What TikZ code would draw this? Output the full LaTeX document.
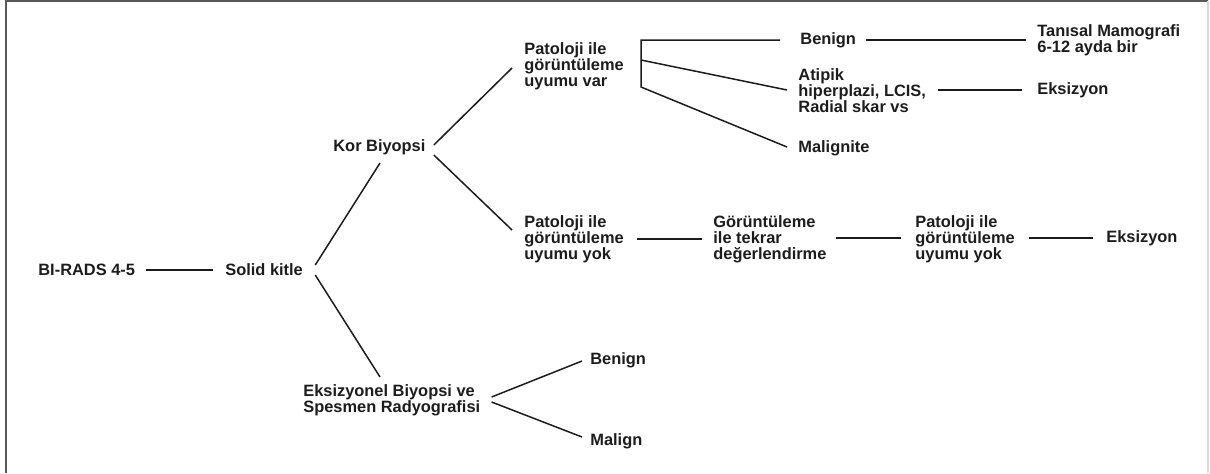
\documentclass[tikz,border=0pt]{standalone}
\usepackage{fontspec}
\setmainfont{Liberation Sans}
\usetikzlibrary{calc}
\definecolor{ink}{HTML}{1C1C1C}
\begin{document}
\begin{tikzpicture}[x=0.5pt,y=-0.5pt,
  lbl/.style={anchor=west, inner sep=0pt, align=left, text=ink,
    font=\fontsize{8.2}{8}\selectfont\bfseries},
  link/.style={draw=ink, line width=0.75pt}]
\useasboundingbox (0,0) rectangle (1210,473);
% frame
\draw[draw=black!65, line width=1.1pt] (6,473) -- (6,1) -- (1208,1);
\draw[draw=black!15, line width=0.8pt] (1208,1) -- (1208,473);

% nodes
\node[lbl] (birads) at (38,270) {BI-RADS 4-5};
\node[lbl] (solid) at (225,270) {Solid kitle};
\node[lbl] (kor) at (333,147) {Kor Biyopsi};
\node[lbl] (eks) at (303,400) {Eksizyonel Biyopsi ve\\Spesmen Radyografisi};
\node[lbl] (benignb) at (590,360) {Benign};
\node[lbl] (malign) at (590,441) {Malign};
\node[lbl] (pvar) at (524,66) {Patoloji ile\\görüntüleme\\uyumu var};
\node[lbl] (benigna) at (800,40) {Benign};
\node[lbl] (tanisal) at (1037,40) {Tanısal Mamografi\\6-12 ayda bir};
\node[lbl] (atipik) at (798,91) {Atipik\\hiperplazi, LCIS,\\Radial skar vs};
\node[lbl] (eksiza) at (1037,90) {Eksizyon};
\node[lbl] (malignite) at (798,148) {Malignite};
\node[lbl] (pyoka) at (524,239) {Patoloji ile\\görüntüleme\\uyumu yok};
\node[lbl] (gor) at (713,239) {Görüntüleme\\ile tekrar\\değerlendirme};
\node[lbl] (pyokb) at (915,239) {Patoloji ile\\görüntüleme\\uyumu yok};
\node[lbl] (eksizb) at (1106,238) {Eksizyon};

% bracket joints after the matching branch
\coordinate (brtop) at ($(pvar.west)+(117,-26)$);
\coordinate (brmid) at ($(pvar.west)+(117,-6)$);
\coordinate (brbot) at ($(pvar.west)+(117,21)$);

% connectors
\draw[link] ($(birads.east)+(11,0)$) -- ($(solid.west)+(-12,0)$);
\draw[link] ($(solid.east)+(12,-5)$) -- ($(kor.west)+(47,16)$);
\draw[link] ($(solid.east)+(12,5)$) -- ($(eks.west)+(77,-23)$);
\draw[link] ($(kor.east)+(8,-2)$) -- ($(pvar.west)+(-12,2)$);
\draw[link] ($(kor.east)+(8,8)$) -- ($(pyoka.west)+(-12,-9)$);
\draw[link] ($(benigna.west)+(-20,0)$) -- (brtop) -- (brbot) -- ($(malignite.west)+(-11,-1)$);
\draw[link] (brmid) -- ($(atipik.west)+(-11,-1)$);
\draw[link] ($(benigna.east)+(10,0)$) -- ($(tanisal.west)+(-11,0)$);
\draw[link] ($(atipik.west)+(140,-1)$) -- ($(eksiza.west)+(-15,0)$);
\draw[link] ($(pyoka.east)+(13,0)$) -- ($(gor.west)+(-11,0)$);
\draw[link] ($(gor.east)+(9,-1)$) -- ($(pyokb.west)+(-14,-1)$);
\draw[link] ($(pyokb.east)+(14,-1)$) -- ($(eksizb.west)+(-13,0)$);
\draw[link] ($(eks.east)+(11,-3)$) -- ($(benignb.west)+(-8,1)$);
\draw[link] ($(eks.east)+(11,2)$) -- ($(malign.west)+(-8,-4)$);
\end{tikzpicture}
\end{document}
